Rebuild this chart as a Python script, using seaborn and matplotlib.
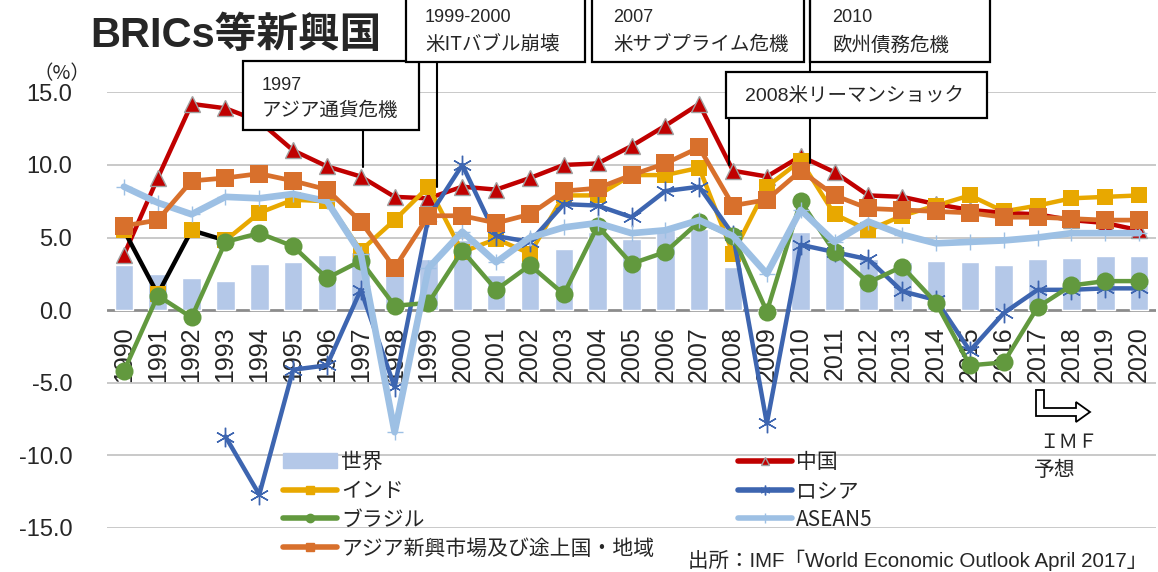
import numpy as np
import pandas as pd
import matplotlib
matplotlib.use("Agg")
import matplotlib.pyplot as plt
from matplotlib.patches import Rectangle, Polygon
from matplotlib.lines import Line2D
import seaborn as sns

# データ (IMF WEO April 2017, 実質GDP成長率 %)
years = list(range(1990, 2021))
world = [3.1, 2.5, 2.2, 2.0, 3.2, 3.3, 3.8, 4.0, 2.5, 3.5,
         4.8, 2.4, 2.9, 4.2, 5.4, 4.9, 5.5, 5.6, 3.0, -0.1,
         5.4, 4.2, 3.5, 3.3, 3.4, 3.3, 3.1, 3.5, 3.6, 3.7, 3.7]
china = [3.8, 9.1, 14.2, 13.9, 13.0, 11.0, 9.9, 9.2, 7.8, 7.7,
         8.5, 8.3, 9.1, 10.0, 10.1, 11.3, 12.7, 14.2, 9.6, 9.2,
         10.6, 9.5, 7.9, 7.8, 7.3, 6.9, 6.7, 6.6, 6.2, 6.0, 5.5]
india = [5.5, 1.1, 5.5, 4.8, 6.7, 7.6, 7.5, 4.1, 6.2, 8.5,
         4.0, 4.9, 3.9, 7.9, 7.9, 9.3, 9.3, 9.8, 3.9, 8.5,
         10.3, 6.6, 5.5, 6.5, 7.2, 7.9, 6.8, 7.2, 7.7, 7.8, 7.9]
russia = [np.nan, np.nan, np.nan, -8.7, -12.7, -4.1, -3.8, 1.4, -5.3, 6.4,
          10.0, 5.1, 4.7, 7.3, 7.2, 6.4, 8.2, 8.5, 5.2, -7.8,
          4.5, 4.0, 3.5, 1.3, 0.7, -2.8, -0.2, 1.4, 1.4, 1.5, 1.5]
brazil = [-4.2, 1.0, -0.5, 4.7, 5.3, 4.4, 2.2, 3.4, 0.3, 0.5,
          4.1, 1.4, 3.1, 1.1, 5.8, 3.2, 4.0, 6.1, 5.1, -0.1,
          7.5, 4.0, 1.9, 3.0, 0.5, -3.8, -3.6, 0.2, 1.7, 2.0, 2.0]
asean5 = [8.5, 7.4, 6.6, 7.8, 7.7, 8.0, 7.5, 3.9, -8.4, 2.9,
          5.4, 3.3, 5.0, 5.7, 6.0, 5.3, 5.5, 6.2, 5.1, 2.5,
          6.9, 4.7, 6.1, 5.2, 4.6, 4.7, 4.8, 5.0, 5.3, 5.3, 5.3]
asia_em = [5.8, 6.2, 8.9, 9.1, 9.4, 8.9, 8.3, 6.1, 2.9, 6.5,
           6.5, 6.0, 6.6, 8.2, 8.4, 9.3, 10.1, 11.2, 7.2, 7.6,
           9.6, 7.9, 7.0, 6.9, 6.8, 6.7, 6.4, 6.4, 6.3, 6.2, 6.2]

df = pd.DataFrame({
    "year": [str(y) for y in years], "pos": np.arange(len(years)),
    "world": world, "china": china, "india": india, "russia": russia,
    "brazil": brazil, "asean5": asean5, "asia_em": asia_em,
})

W, H = 1158, 572
def fx(x):
    return x / W
def fy(y):
    return 1 - y / H

sns.set_style("white")
plt.rcParams["font.family"] = ["Liberation Sans", "Noto Sans CJK JP", "DejaVu Sans"]
JP = ["Noto Sans CJK JP", "DejaVu Sans"]

fig = plt.figure(figsize=(W / 100, H / 100), dpi=100)
ax = fig.add_axes([fx(107), fy(528), fx(1156) - fx(107), fy(92.3) - fy(528)])

# 世界 (棒)
sns.barplot(data=df, x="year", y="world", color="#B4C8E8", saturation=1,
            width=0.55, ax=ax, zorder=2)

c_china, c_india, c_russia = "#C00000", "#E8A800", "#3D65B0"
c_brazil, c_asean, c_asia = "#62993E", "#9DC0E4", "#D8702C"

sns.lineplot(data=df, x="pos", y="china", color=c_china, lw=3.2, marker="^",
             markersize=12, markeredgecolor="#A0A0A0", markeredgewidth=1,
             ax=ax, zorder=3)
# インド: 1990-93 は黒線
early = df[df["pos"] <= 3]
sns.lineplot(data=early, x="pos", y="india", color="black", lw=3.2, ax=ax, zorder=4)
late = df[df["pos"] >= 3]
sns.lineplot(data=late, x="pos", y="india", color=c_india, lw=3.2, ax=ax, zorder=4)
sns.lineplot(data=df, x="pos", y="india", color=c_india, lw=0, marker="s",
             markersize=12, markeredgewidth=0, ax=ax, zorder=4)
sns.lineplot(data=df.dropna(subset=["russia"]), x="pos", y="russia", color=c_russia,
             lw=3.2, marker=(6, 2, 0), markersize=14, markeredgecolor=c_russia,
             markeredgewidth=1, ax=ax, zorder=5)
sns.lineplot(data=df, x="pos", y="brazil", color=c_brazil, lw=3.2, marker="o",
             markersize=13, markeredgewidth=0, ax=ax, zorder=6)
sns.lineplot(data=df, x="pos", y="asean5", color=c_asean, lw=4.8, marker="+",
             markersize=12, markeredgecolor=c_asean, markeredgewidth=1,
             ax=ax, zorder=7)
sns.lineplot(data=df, x="pos", y="asia_em", color=c_asia, lw=3.4, marker="s",
             markersize=13, markeredgewidth=0, ax=ax, zorder=8)

ax.set_xlim(-0.5, len(years) - 0.5)
ax.set_ylim(-15, 15)
ax.set_yticks(np.arange(-15, 16, 5))
ax.set_yticklabels([f"{v:.1f}" for v in np.arange(-15, 16, 5)], fontsize=17)
ax.tick_params(axis="y", length=0, pad=25)
ax.set_xticks([])
ax.set_xlabel("")
ax.set_ylabel("")
for s in ax.spines.values():
    s.set_visible(False)
for v in np.arange(-15, 16, 5):
    if v == 0:
        ax.axhline(v, color="#8C8C8C", lw=2, zorder=1.5)
    else:
        ax.axhline(v, color="#C0C0C0", lw=1.2, zorder=1)

for i, yr in enumerate(years):
    ax.text(i, -1.1, str(yr), rotation=90, ha="center", va="top", fontsize=18,
            zorder=2.5)

# 凡例
handles = [
    Rectangle((0, 0), 1, 1, color="#B4C8E8"),
    Line2D([], [], color=c_india, lw=4, marker="s", markersize=6),
    Line2D([], [], color=c_brazil, lw=4, marker="o", markersize=6),
    Line2D([], [], color=c_asia, lw=4, marker="s", markersize=6),
    Line2D([], [], color=c_china, lw=4, marker="^", markersize=6,
           markeredgecolor="#A0A0A0"),
    Line2D([], [], color=c_russia, lw=4, marker=(6, 2, 0), markersize=7,
           markeredgecolor=c_russia),
    Line2D([], [], color=c_asean, lw=4, marker="+", markersize=7,
           markeredgecolor=c_asean),
]
labels = ["世界", "インド", "ブラジル", "アジア新興市場及び途上国・地域",
          "中国", "ロシア", "ASEAN5"]
fig.legend(handles, labels, loc="upper left", bbox_to_anchor=(fx(283), fy(451)),
           ncol=2, frameon=False, prop={"family": JP, "size": 15},
           handlelength=2.6, handletextpad=0.2, columnspacing=4.0,
           labelspacing=0.33, borderpad=0, borderaxespad=0)

# タイトル等
fig.text(fx(90), fy(36), "BRICs等新興国", fontsize=30, fontweight="bold",
         va="center", ha="left", zorder=6)
fig.text(fx(62), fy(74), "（%）", fontsize=14, va="center", ha="center",
         family=JP)

# 注記ボックス
boxes = [
    (243, 61, 419, 130, 262, 86, 110, "1997", "アジア通貨危機", 3),
    (406, -5, 585, 62, 425, 18, 45, "1999-2000", "米ITバブル崩壊", 3),
    (592, -5, 804, 62, 613, 18, 45, "2007", "米サブプライム危機", 3),
    (810, -5, 990, 62, 832, 18, 45, "2010", "欧州債務危機", 3),
]
for x0, y0, x1, y1, tx, ty1, ty2, t1, t2, z in boxes:
    fig.add_artist(Rectangle((fx(x0), fy(y1)), fx(x1) - fx(x0), fy(y0) - fy(y1),
                             transform=fig.transFigure, facecolor="white",
                             edgecolor="black", lw=1.6, zorder=z))
    fig.text(fx(tx), fy(ty1), t1, fontsize=13, va="center", ha="left", zorder=z + 0.1)
    fig.text(fx(tx), fy(ty2), t2, fontsize=14, va="center", ha="left",
             family=JP, zorder=z + 0.1)

for x, ya, yb in [(363, 130, 167), (437, 62, 187), (729, 118, 165), (810, 0, 163)]:
    fig.add_artist(Line2D([fx(x), fx(x)], [fy(ya), fy(yb)], color="black", lw=1.5,
                          transform=fig.transFigure, zorder=3))

fig.add_artist(Rectangle((fx(726), fy(118)), fx(987) - fx(726), fy(72) - fy(118),
                         transform=fig.transFigure, facecolor="white",
                         edgecolor="black", lw=1.6, zorder=4))
fig.text(fx(745), fy(96), "2008米リーマンショック", fontsize=14, va="center",
         ha="left", zorder=4.1)

# IMF予想 矢印
arrow = [(1036, 390), (1044, 390), (1044, 408), (1076, 408), (1076, 402),
         (1090, 412), (1076, 422), (1076, 416), (1036, 416)]
fig.add_artist(Polygon([(fx(a), fy(b)) for a, b in arrow], closed=True,
                       transform=fig.transFigure, facecolor="white",
                       edgecolor="black", lw=1.3, zorder=4))
fig.text(fx(1068), fy(442), "ＩＭＦ", fontsize=14, va="center", ha="center",
         family=JP)
fig.text(fx(1034), fy(470), "予想", fontsize=15, va="center", ha="left", family=JP)

fig.text(fx(688), fy(560), "出所：IMF「World Economic Outlook April 2017」",
         fontsize=14.8, va="center", ha="left")

fig.savefig("out.png", dpi=100)
